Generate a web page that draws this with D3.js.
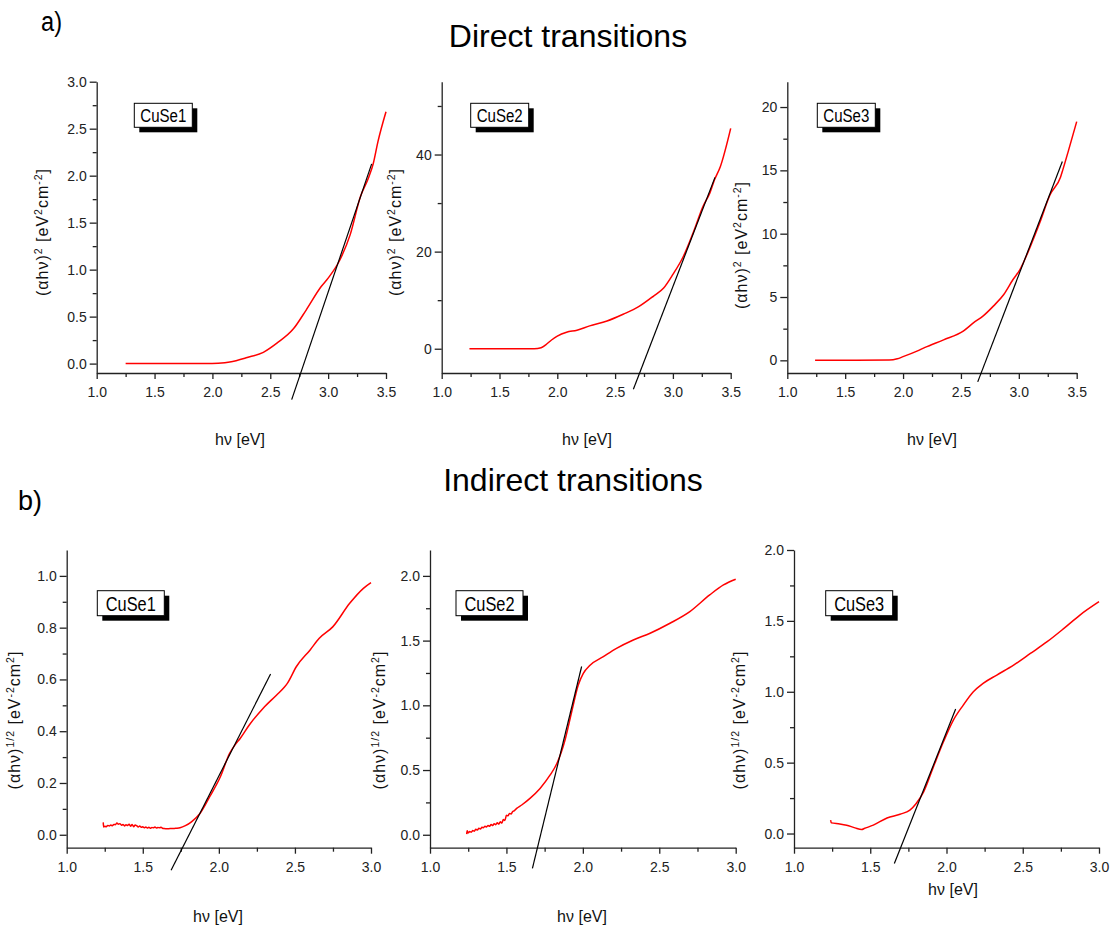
<!DOCTYPE html>
<meta charset="utf-8">
<style>
  body { margin: 0; background: #fff; }
  svg { font-family: "Liberation Sans", Arial, sans-serif; }
  .axis path, .axis line { stroke: #222; stroke-width: 1.3px; }
  .axis text { font-size: 14px; fill: #222; font-family: "Liberation Sans", Arial, sans-serif; }
  .curve { fill: none; stroke: #ff0000; stroke-width: 1.5px; }
  .fit { fill: none; stroke: #000; stroke-width: 1.2px; }
  .lab { font-size: 16px; fill: #111; }
  .ylab { font-size: 16px; fill: #111; letter-spacing: 1px; }
  .title { font-size: 32px; fill: #000; }
</style>
<svg width="1113" height="929"></svg>
<script src="https://d3js.org/d3.v7.min.js"></script>
<script>

  // --- data ---
  var sampleNames = ["CuSe1", "CuSe2", "CuSe3"];

  // direct transitions, (alpha h nu)^2 vs h nu
  var direct1 = [[1.25,0],[1.6,0],[1.95,0],[2.05,0.005],[2.15,0.018],[2.3,0.065],[2.44,0.12],[2.56,0.22],
    [2.7,0.37],[2.81,0.57],[2.94,0.82],[3.0,0.91],[3.1,1.1],[3.19,1.37],[3.28,1.78],[3.35,1.98],
    [3.39,2.13],[3.43,2.36],[3.5,2.68]];
  var direct2 = [[1.24,0],[1.6,0],[1.8,0.02],[1.86,0.2],[1.9,0.8],[1.95,1.8],[2.0,2.6],[2.08,3.4],[2.17,3.8],
    [2.28,4.7],[2.43,5.7],[2.57,7.1],[2.7,8.6],[2.83,10.8],[2.92,12.5],[3.0,15.3],[3.09,19.0],
    [3.18,24.2],[3.26,29.3],[3.32,32.1],[3.36,34.8],[3.41,37.5],[3.5,45.4]];
  var direct3 = [[1.24,0],[1.6,0],[1.88,0.02],[1.95,0.12],[2.0,0.29],[2.12,0.73],[2.19,1.02],[2.35,1.62],
    [2.52,2.31],[2.61,2.97],[2.69,3.49],[2.78,4.28],[2.87,5.2],[2.95,6.38],[3.01,7.17],[3.1,9.0],
    [3.18,10.84],[3.27,13.07],[3.36,14.46],[3.38,15.04],[3.43,16.6],[3.5,18.85]];

  // indirect transitions, (alpha h nu)^1/2 vs h nu
  var indirect1 = [[1.240,0.048],[1.243,0.030],[1.25,0.033],[1.26,0.031],[1.27,0.036],[1.28,0.034],
    [1.29,0.038],[1.30,0.035],[1.31,0.040],[1.32,0.039],[1.33,0.045],[1.34,0.041],[1.35,0.043],
    [1.36,0.037],[1.37,0.040],[1.38,0.034],[1.39,0.039],[1.40,0.036],[1.41,0.041],[1.42,0.033],
    [1.43,0.040],[1.44,0.031],[1.45,0.038],[1.46,0.035],[1.47,0.030],[1.48,0.034],[1.49,0.029],
    [1.50,0.031],[1.51,0.027],[1.52,0.030],[1.53,0.026],[1.54,0.029],[1.55,0.025],[1.56,0.028],
    [1.57,0.027],[1.58,0.030],[1.59,0.026],[1.60,0.028],[1.61,0.027],[1.62,0.029],[1.63,0.025],
    [1.64,0.024],[1.66,0.023],[1.68,0.024],[1.70,0.024],[1.72,0.025],[1.745,0.027],[1.78,0.035],
    [1.82,0.05],[1.876,0.082],[1.94,0.147],[2.01,0.224],[2.07,0.314],[2.11,0.35],[2.14,0.372],
    [2.2,0.424],[2.29,0.488],[2.38,0.54],[2.43,0.57],[2.45,0.585],[2.51,0.65],[2.6,0.714],
    [2.66,0.759],[2.75,0.804],[2.86,0.894],[2.95,0.952],[3.0,0.974]];
  var indirect2 = [[1.240,0.005],[1.243,0.030],[1.25,0.015],[1.26,0.025],[1.27,0.020],[1.28,0.032],
    [1.29,0.028],[1.30,0.042],[1.31,0.036],[1.32,0.050],[1.33,0.045],[1.34,0.058],[1.35,0.055],
    [1.36,0.066],[1.37,0.060],[1.38,0.072],[1.39,0.065],[1.40,0.080],[1.41,0.071],[1.42,0.086],
    [1.43,0.078],[1.44,0.092],[1.45,0.083],[1.46,0.100],[1.47,0.090],[1.48,0.118],[1.49,0.110],
    [1.50,0.150],[1.51,0.146],[1.52,0.165],[1.53,0.160],[1.54,0.178],[1.55,0.185],[1.567,0.204],
    [1.6,0.23],[1.654,0.281],[1.72,0.358],[1.785,0.46],[1.83,0.55],[1.883,0.73],[1.927,0.95],
    [1.97,1.157],[2.003,1.247],[2.047,1.31],[2.134,1.376],[2.22,1.44],[2.33,1.505],[2.44,1.557],
    [2.57,1.634],[2.70,1.724],[2.83,1.853],[2.92,1.93],[3.0,1.974]];
  var indirect3 = [[1.24,0.095],[1.245,0.075],[1.3,0.068],[1.345,0.059],[1.4,0.04],[1.444,0.028],
    [1.46,0.035],[1.52,0.059],[1.61,0.11],[1.695,0.136],[1.76,0.165],[1.8,0.21],[1.85,0.294],
    [1.914,0.47],[1.98,0.647],[2.045,0.8],[2.11,0.906],[2.176,1.0],[2.24,1.059],[2.33,1.118],
    [2.44,1.188],[2.55,1.27],[2.66,1.353],[2.77,1.447],[2.875,1.541],[3.0,1.635]];

  // linear fits (end points)
  var fitDirect1 = [[2.685,-0.383],[3.376,2.125]];
  var fitDirect2 = [[2.658,-8.36],[3.364,35.3]];
  var fitDirect3 = [[2.645,-1.7],[3.376,15.7]];
  var fitIndirect1 = [[1.686,-0.137],[2.34,0.621]];
  var fitIndirect2 = [[1.67,-0.26],[1.992,1.30]];
  var fitIndirect3 = [[1.658,-0.212],[2.06,0.878]];

  // ticks
  var xTicksDirect = [1.0, 1.5, 2.0, 2.5, 3.0, 3.5];
  var xMinorDirect = [1.25, 1.75, 2.25, 2.75, 3.25];
  var xTicksIndirect = [1.0, 1.5, 2.0, 2.5, 3.0];
  var xMinorIndirect = [1.25, 1.75, 2.25, 2.75];
  var yTicksD1 = [0.0, 0.5, 1.0, 1.5, 2.0, 2.5, 3.0];
  var yMinorD1 = [0.25, 0.75, 1.25, 1.75, 2.25, 2.75];
  var yTicksD2 = [0, 20, 40];
  var yMinorD2 = [10, 30, 50];
  var yTicksD3 = [0, 5, 10, 15, 20];
  var yMinorD3 = [2.5, 7.5, 12.5, 17.5];
  var yTicksI1 = [0.0, 0.2, 0.4, 0.6, 0.8, 1.0];
  var yMinorI1 = [0.1, 0.3, 0.5, 0.7, 0.9];
  var yTicksI2 = [0.0, 0.5, 1.0, 1.5, 2.0];
  var yMinorI2 = [0.25, 0.75, 1.25, 1.75];

  var svg = d3.select("svg");

  var panels = [
    { data: direct1, fit: fitDirect1, name: sampleNames[0], kind: "d",
      x0: 96.7, x1: 386, yb: 373, yt: 81.7, xd: [1, 3.5], yd: [-0.1, 3.0],
      xt: xTicksDirect, xm: xMinorDirect, yt2: yTicksD1, ym: yMinorD1, fmt: ".1f",
      leg: [134.3, 103.3], ylx: 48, yly: 232, xly: 445, xlx: 240 },
    { data: direct2, fit: fitDirect2, name: sampleNames[1], kind: "d",
      x0: 441.7, x1: 730.7, yb: 373, yt: 81.7, xd: [1, 3.5], yd: [-5, 55],
      xt: xTicksDirect, xm: xMinorDirect, yt2: yTicksD2, ym: yMinorD2, fmt: "d",
      leg: [470.7, 103.3], ylx: 401, yly: 232, xly: 445, xlx: 587 },
    { data: direct3, fit: fitDirect3, name: sampleNames[2], kind: "d",
      x0: 787.3, x1: 1076.7, yb: 373, yt: 81.7, xd: [1, 3.5], yd: [-1, 22],
      xt: xTicksDirect, xm: xMinorDirect, yt2: yTicksD3, ym: yMinorD3, fmt: "d",
      leg: [817.3, 103.3], ylx: 747, yly: 245, xly: 445, xlx: 932 },
    { data: indirect1, fit: fitIndirect1, name: sampleNames[0], kind: "i",
      x0: 66.7, x1: 371, yb: 847.7, yt: 550, xd: [1, 3], yd: [-0.05, 1.1],
      xt: xTicksIndirect, xm: xMinorIndirect, yt2: yTicksI1, ym: yMinorI1, fmt: ".1f",
      leg: [97.3, 590.7], ylx: 20, yly: 720, xly: 922, xlx: 218 },
    { data: indirect2, fit: fitIndirect2, name: sampleNames[1], kind: "i",
      x0: 430, x1: 735.7, yb: 847.7, yt: 550, xd: [1, 3], yd: [-0.1, 2.2],
      xt: xTicksIndirect, xm: xMinorIndirect, yt2: yTicksI2, ym: yMinorI2, fmt: ".1f",
      leg: [456, 590.7], ylx: 385, yly: 720, xly: 922, xlx: 582 },
    { data: indirect3, fit: fitIndirect3, name: sampleNames[2], kind: "i",
      x0: 794, x1: 1099, yb: 847.7, yt: 550, xd: [1, 3], yd: [-0.1, 2.0],
      xt: xTicksIndirect, xm: xMinorIndirect, yt2: yTicksI2, ym: yMinorI2, fmt: ".1f",
      leg: [825.7, 590.7], ylx: 745, yly: 720, xly: 895, xlx: 953 }
  ];

  // titles
  svg.append("text").attr("class", "title").attr("x", 568).attr("y", 47)
    .attr("text-anchor", "middle").text("Direct transitions");
  svg.append("text").attr("class", "title").attr("x", 573).attr("y", 491)
    .attr("text-anchor", "middle").text("Indirect transitions");
  svg.append("text").attr("x", 41).attr("y", 31).style("font-size", "27px")
    .attr("textLength", 21).attr("lengthAdjust", "spacingAndGlyphs").text("a)");
  svg.append("text").attr("x", 18).attr("y", 510).style("font-size", "28px")
    .attr("textLength", 24).attr("lengthAdjust", "spacingAndGlyphs").text("b)");

  panels.forEach(function (p) {
    var x = d3.scaleLinear().domain(p.xd).range([p.x0, p.x1]);
    var y = d3.scaleLinear().domain(p.yd).range([p.yb, p.yt]);
    var g = svg.append("g");

    // minor ticks
    g.append("g").attr("class", "axis")
      .attr("transform", "translate(0," + p.yb + ")")
      .call(d3.axisBottom(x).tickValues(p.xm).tickSize(4).tickFormat(""))
      .select(".domain").remove();
    g.append("g").attr("class", "axis")
      .attr("transform", "translate(" + p.x0 + ",0)")
      .call(d3.axisLeft(y).tickValues(p.ym.filter(function (v) { return v <= p.yd[1]; }))
        .tickSize(4).tickFormat(""))
      .select(".domain").remove();

    // major axes
    g.append("g").attr("class", "axis")
      .attr("transform", "translate(0," + p.yb + ")")
      .call(d3.axisBottom(x).tickValues(p.xt).tickSize(6).tickSizeOuter(0)
        .tickPadding(8).tickFormat(d3.format(".1f")));
    g.append("g").attr("class", "axis")
      .attr("transform", "translate(" + p.x0 + ",0)")
      .call(d3.axisLeft(y).tickValues(p.yt2).tickSize(7).tickSizeOuter(0)
        .tickPadding(3).tickFormat(d3.format(p.fmt)));

    var lineGen = d3.line().x(function (d) { return x(d[0]); }).y(function (d) { return y(d[1]); });

    g.append("path").attr("class", "curve")
      .attr("d", lineGen.curve(d3.curveMonotoneX)(p.data));
    g.append("path").attr("class", "fit")
      .attr("d", lineGen.curve(d3.curveLinear)(p.fit));

    // legend box with shadow
    var bw = p.kind === "d" ? 58 : 67, bh = p.kind === "d" ? 24 : 25;
    var lg = g.append("g").attr("transform", "translate(" + p.leg[0] + "," + p.leg[1] + ")");
    lg.append("rect").attr("x", 5).attr("y", 5).attr("width", bw).attr("height", bh).attr("fill", "#000");
    lg.append("rect").attr("x", 0).attr("y", 0).attr("width", bw).attr("height", bh)
      .attr("fill", "#fff").attr("stroke", "#000").attr("stroke-width", 1);
    lg.append("text").attr("x", bw / 2).attr("y", bh - 5)
      .attr("text-anchor", "middle")
      .style("font-size", p.kind === "d" ? "18px" : "19.5px")
      .attr("textLength", p.kind === "d" ? 46 : 50).attr("lengthAdjust", "spacingAndGlyphs")
      .text(p.name);

    // x label
    g.append("text").attr("class", "lab").attr("x", p.xlx).attr("y", p.xly)
      .attr("text-anchor", "middle").text("h\u03bd [eV]");

    // y label
    var t = g.append("text").attr("class", "ylab")
      .attr("transform", "translate(" + p.ylx + "," + p.yly + ") rotate(-90)")
      .attr("text-anchor", "middle").attr("dy", "0.35em");
    var parts = p.kind === "d"
      ? [["(\u03b1h\u03bd)", 0], ["2", 1], [" [eV", 0], ["2", 1], ["cm", 0], ["-2", 1], ["]", 0]]
      : [["(\u03b1h\u03bd)", 0], ["1/2", 1], [" [eV", 0], ["-2", 1], ["cm", 0], ["2", 1], ["]", 0]];
    parts.forEach(function (pt, i) {
      t.append("tspan")
        .attr("dy", i === 0 ? 0 : (pt[1] ? -6 : 6))
        .style("font-size", pt[1] ? "10.5px" : null)
        .text(pt[0]);
    });
  });

</script>
